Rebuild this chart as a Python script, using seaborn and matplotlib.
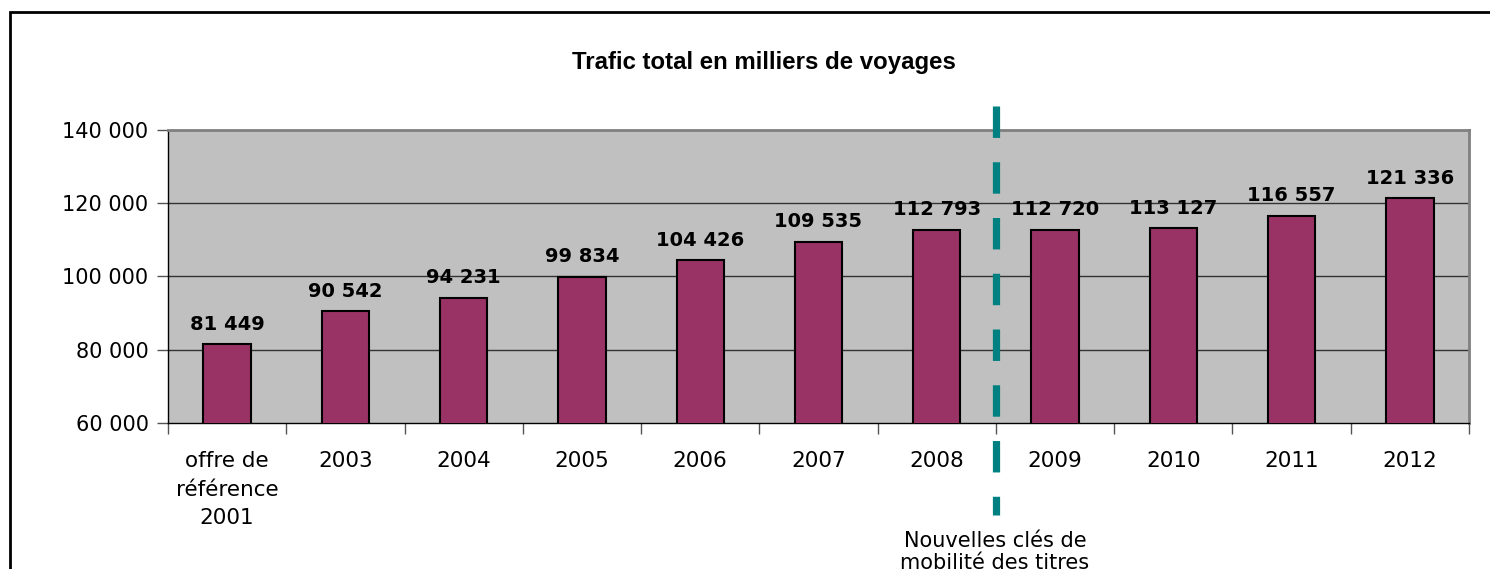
import numpy as np
import matplotlib
matplotlib.use("Agg")
import matplotlib.pyplot as plt
import matplotlib.patches as mpatches
import matplotlib.transforms as mtransforms
import seaborn as sns
import pandas as pd

# data
categories = ["offre de\nréférence\n2001", "2003", "2004", "2005", "2006", "2007",
              "2008", "2009", "2010", "2011", "2012"]
voyages = [81449, 90542, 94231, 99834, 104426, 109535,
           112793, 112720, 113127, 116557, 121336]
y_ticks = [60000, 80000, 100000, 120000, 140000]

title = "Trafic total en milliers de voyages"
note = "Nouvelles clés de\nmobilité des titres"

df = pd.DataFrame({"cat": categories, "val": voyages})

sns.set_style("white")
plt.rcParams['font.family'] = ['DejaVu Sans']
plt.rcParams['text.color'] = 'black'
plt.rcParams['xtick.color'] = 'black'
plt.rcParams['ytick.color'] = 'black'

fig = plt.figure(figsize=(14.9, 5.69), dpi=100)
ax = fig.add_axes([168 / 1490, 1 - 423 / 569, (1469 - 168) / 1490, (423 - 130) / 569])

sns.barplot(data=df, x="cat", y="val", color="#993366", width=0.4,
            edgecolor="black", linewidth=1.5, saturation=1, ax=ax, zorder=3)

ax.set_facecolor("#C0C0C0")
ax.set_ylim(60000, 140000)
ax.set_xlim(-0.5, len(categories) - 0.5)
ax.set_yticks(y_ticks)
ax.set_yticklabels([f"{v:,}".replace(",", " ") for v in y_ticks], fontsize=15)
ax.set_xlabel("")
ax.set_ylabel("")

# gridlines
for v in y_ticks[1:-1]:
    ax.axhline(v, color="#333333", linewidth=1, zorder=1)

# x ticks at category boundaries, labels centred
ax.set_xticks(np.arange(-0.5, len(categories), 1.0))
ax.set_xticklabels([])
ax.set_xticks(np.arange(len(categories)), minor=True)
ax.set_xticklabels(categories, minor=True, fontsize=15.5, linespacing=1.55)
ax.tick_params(axis="x", which="minor", bottom=False, length=0, pad=20)
ax.tick_params(axis="x", which="major", bottom=True, length=8, width=1,
               color="#555555", direction="out")
ax.tick_params(axis="y", left=True, length=8, width=1, color="#555555",
               direction="out", pad=6)
for lbl in ax.get_xticklabels(minor=True):
    lbl.set_verticalalignment("top")

for s in ["top", "right"]:
    ax.spines[s].set_color("#808080")
    ax.spines[s].set_linewidth(2)
for s in ["left", "bottom"]:
    ax.spines[s].set_color("black")
    ax.spines[s].set_linewidth(1)

# value labels
for i, v in enumerate(voyages):
    ax.text(i, v + 2900, f"{v:,}".replace(",", " "), ha="center", va="bottom",
            fontsize=14, fontweight="bold", color="black", zorder=4)

# dashed separator between 2008 and 2009
trans = mtransforms.blended_transform_factory(ax.transData, ax.transAxes)
ax.plot([6.5, 6.5], [1 + 24 / 293, -92 / 293], transform=trans, color="#008080",
        linewidth=5.2, linestyle=(0, (4.35, 3.37)), solid_capstyle="butt",
        dash_capstyle="butt", clip_on=False, zorder=5)

fig.text(764 / 1490, 1 - 63 / 569, title, ha="center", va="center",
         fontsize=17.3, fontweight="bold", family=["Liberation Sans"])
fig.text(995 / 1490, 1 - 531 / 569, note, ha="center", va="top",
         fontsize=15, linespacing=1.1)

# outer frame
fig.patches.append(mpatches.Rectangle((10 / 1490, -0.1), 1.2, 1 - 12 / 569 + 0.1,
                                      transform=fig.transFigure, fill=False,
                                      edgecolor="black", linewidth=2))

fig.savefig("out.png", dpi=100)
